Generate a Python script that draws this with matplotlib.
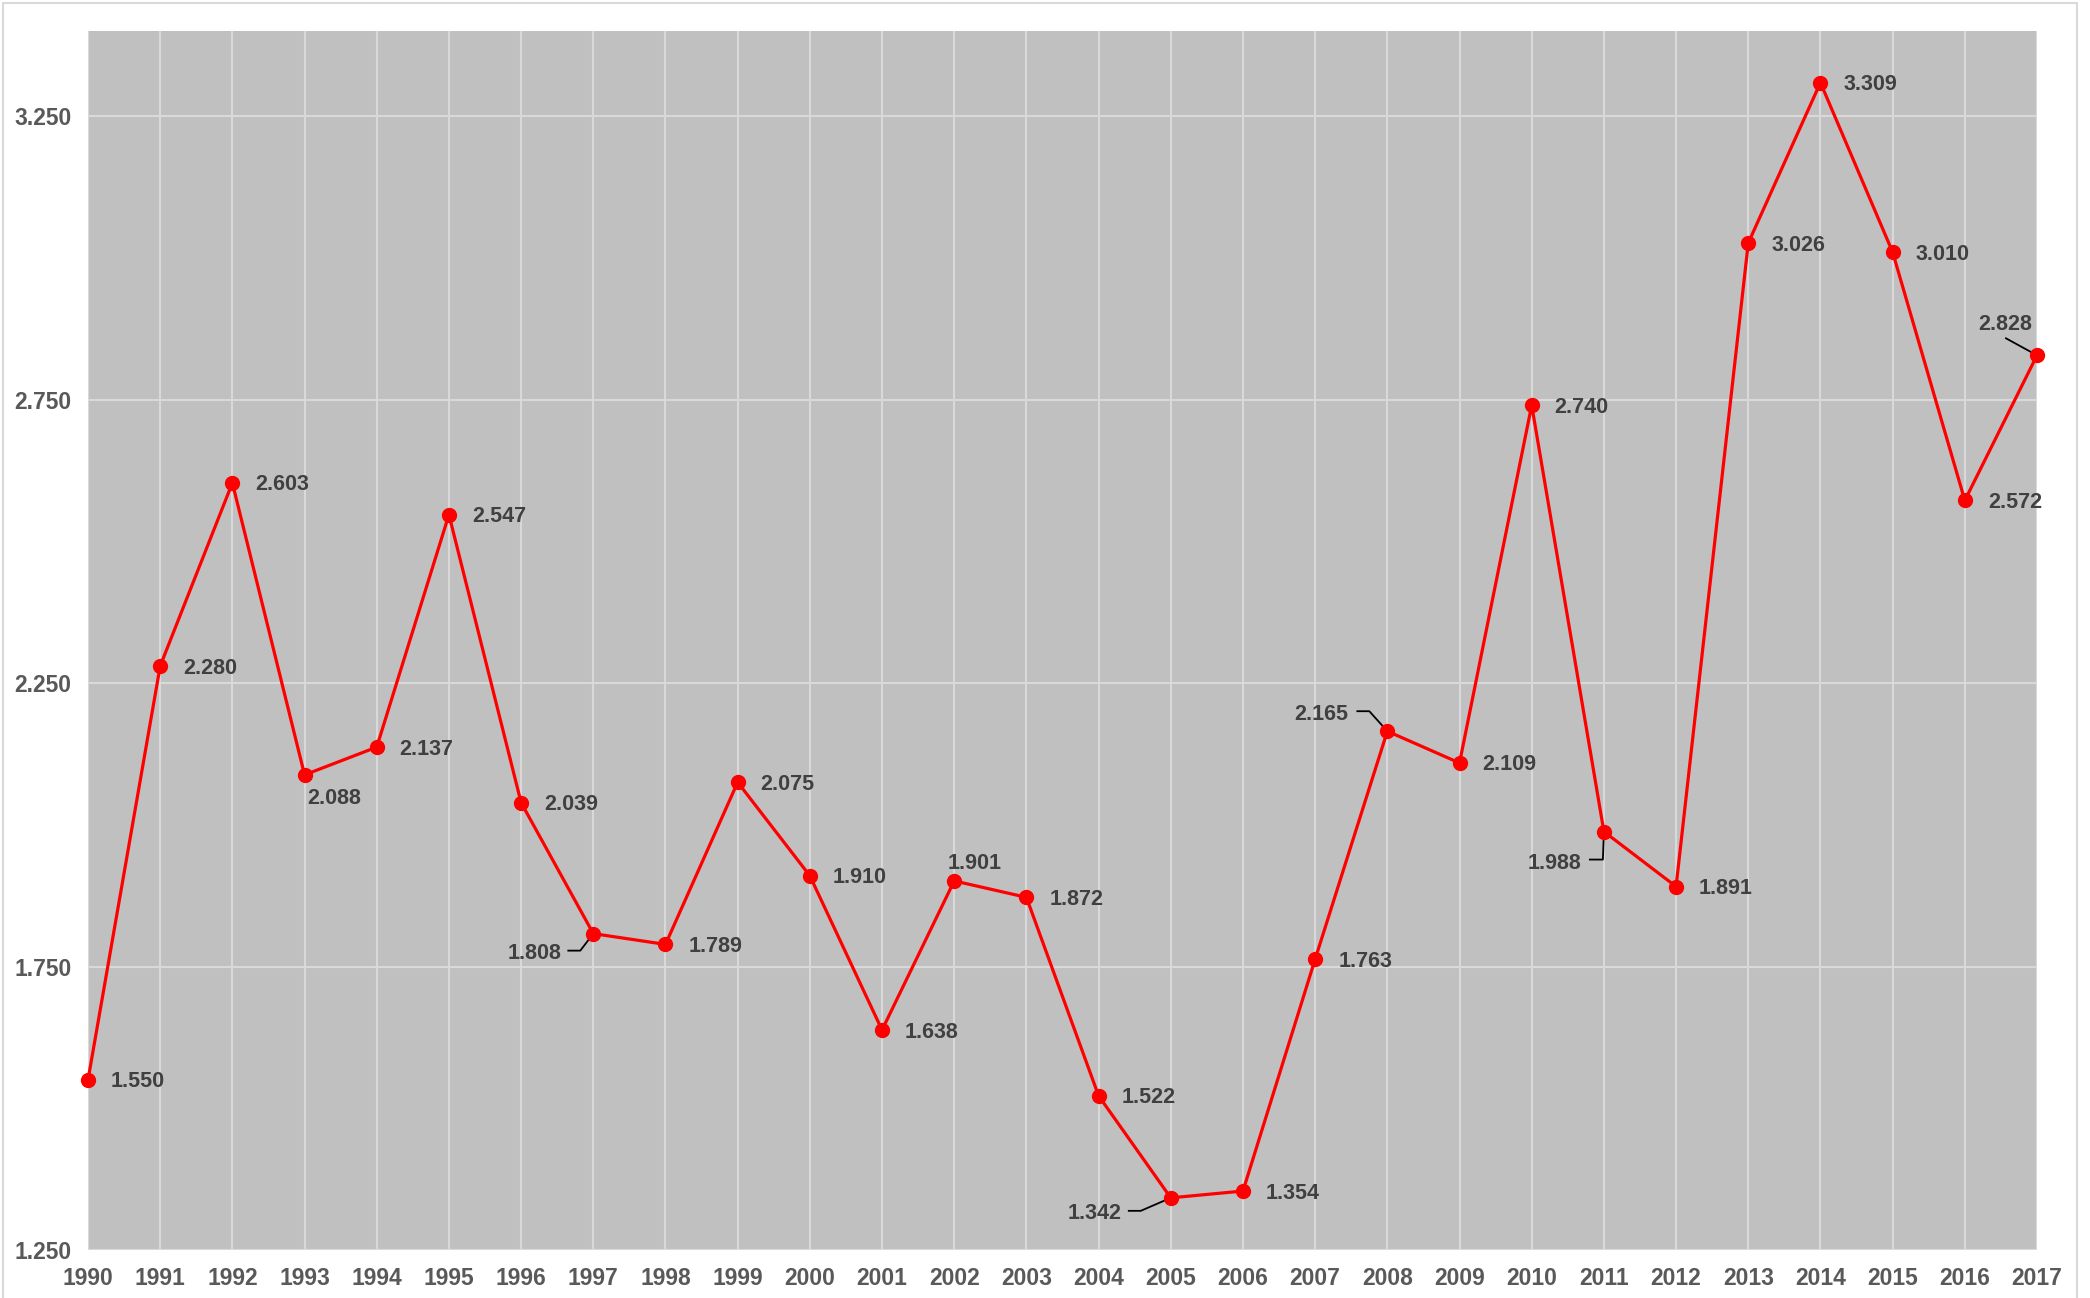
import matplotlib
matplotlib.use("Agg")
import matplotlib.pyplot as plt
import matplotlib.transforms as mtransforms
from matplotlib.lines import Line2D
from matplotlib.patches import Rectangle

years = list(range(1990, 2018))
values = [1.550, 2.280, 2.603, 2.088, 2.137, 2.547, 2.039, 1.808, 1.789, 2.075,
          1.910, 1.638, 1.901, 1.872, 1.522, 1.342, 1.354, 1.763, 2.165, 2.109,
          2.740, 1.988, 1.891, 3.026, 3.309, 3.010, 2.572, 2.828]
labels = [f"{v:.3f}" for v in values]
yticks = [1.25, 1.75, 2.25, 2.75, 3.25]
ytick_labels = [f"{t:.3f}" for t in yticks]

plt.rcParams['font.family'] = ['Liberation Sans', 'DejaVu Sans']

DPI = 100
fig = plt.figure(figsize=(20.90, 12.98), dpi=DPI)
W, H = 2090, 1298
ax = fig.add_axes([88 / W, 1 - 1250 / H, (2037 - 88) / W, (1250 - 31) / H])
ax.set_facecolor('#c0c0c0')

# outer chart border
fig.patches.append(Rectangle((3 / W, -0.01), (2077 - 3) / W, 1 - 3 / H + 0.01,
                             transform=fig.transFigure, fill=False,
                             edgecolor='#d9d9d9', linewidth=1.5))

ax.plot(years, values, color='#ff0000', lw=2.3, marker='o', markersize=10,
        markerfacecolor='#ff0000', markeredgecolor='#ff0000', zorder=3,
        clip_on=False)

ax.set_xlim(1990, 2017)
ax.set_ylim(1.25, 3.40)
ax.set_xticks(years)
ax.set_xticklabels([str(y) for y in years])
ax.set_yticks(yticks)
ax.set_yticklabels(ytick_labels)
ax.grid(True, color='#d9d9d9', lw=1.5, zorder=0)
ax.set_axisbelow(True)
for s in ax.spines.values():
    s.set_visible(False)
ax.tick_params(axis='both', length=0, labelsize=16.5, labelcolor='#595959')
ax.tick_params(axis='y', pad=12)
ax.tick_params(axis='x', pad=12)
for t in ax.get_xticklabels() + ax.get_yticklabels():
    t.set_fontweight('bold')

# label placement: (dx, dy, ha, va, leader vertices in pixels)
special = {
    1993: (3, -24, 'left', 'center', None),
    1997: (-32, -20, 'right', 'center', [(0, 0), (-13, -17), (-25, -17)]),
    2002: (20, 17, 'center', 'center', None),
    2005: (-49, -16, 'right', 'center', [(0, 0), (-30, -13), (-42, -13)]),
    2008: (-39, 17, 'right', 'center', [(0, 0), (-18, 20), (-30, 20)]),
    2011: (-23, -32, 'right', 'center', [(0, 0), (-1, -28), (-14, -28)]),
    2017: (-32, 31, 'center', 'center', [(0, 0), (-31, 17)]),
}

for yr, v, lab in zip(years, values, labels):
    dx, dy, ha, va, leader = special.get(yr, (23, -2, 'left', 'center', None))
    ax.annotate(lab, (yr, v), xytext=(dx, dy), textcoords='offset pixels',
                ha=ha, va=va, fontsize=15.5, fontweight='bold', color='#404040',
                zorder=5, annotation_clip=False)
    if leader:
        tr = mtransforms.ScaledTranslation(yr, v, ax.transData)
        line = Line2D([p[0] for p in leader], [p[1] for p in leader],
                      transform=mtransforms.IdentityTransform() + tr,
                      color='black', lw=1.3, zorder=2)
        ax.add_line(line)

fig.savefig('out.png', dpi=DPI)
